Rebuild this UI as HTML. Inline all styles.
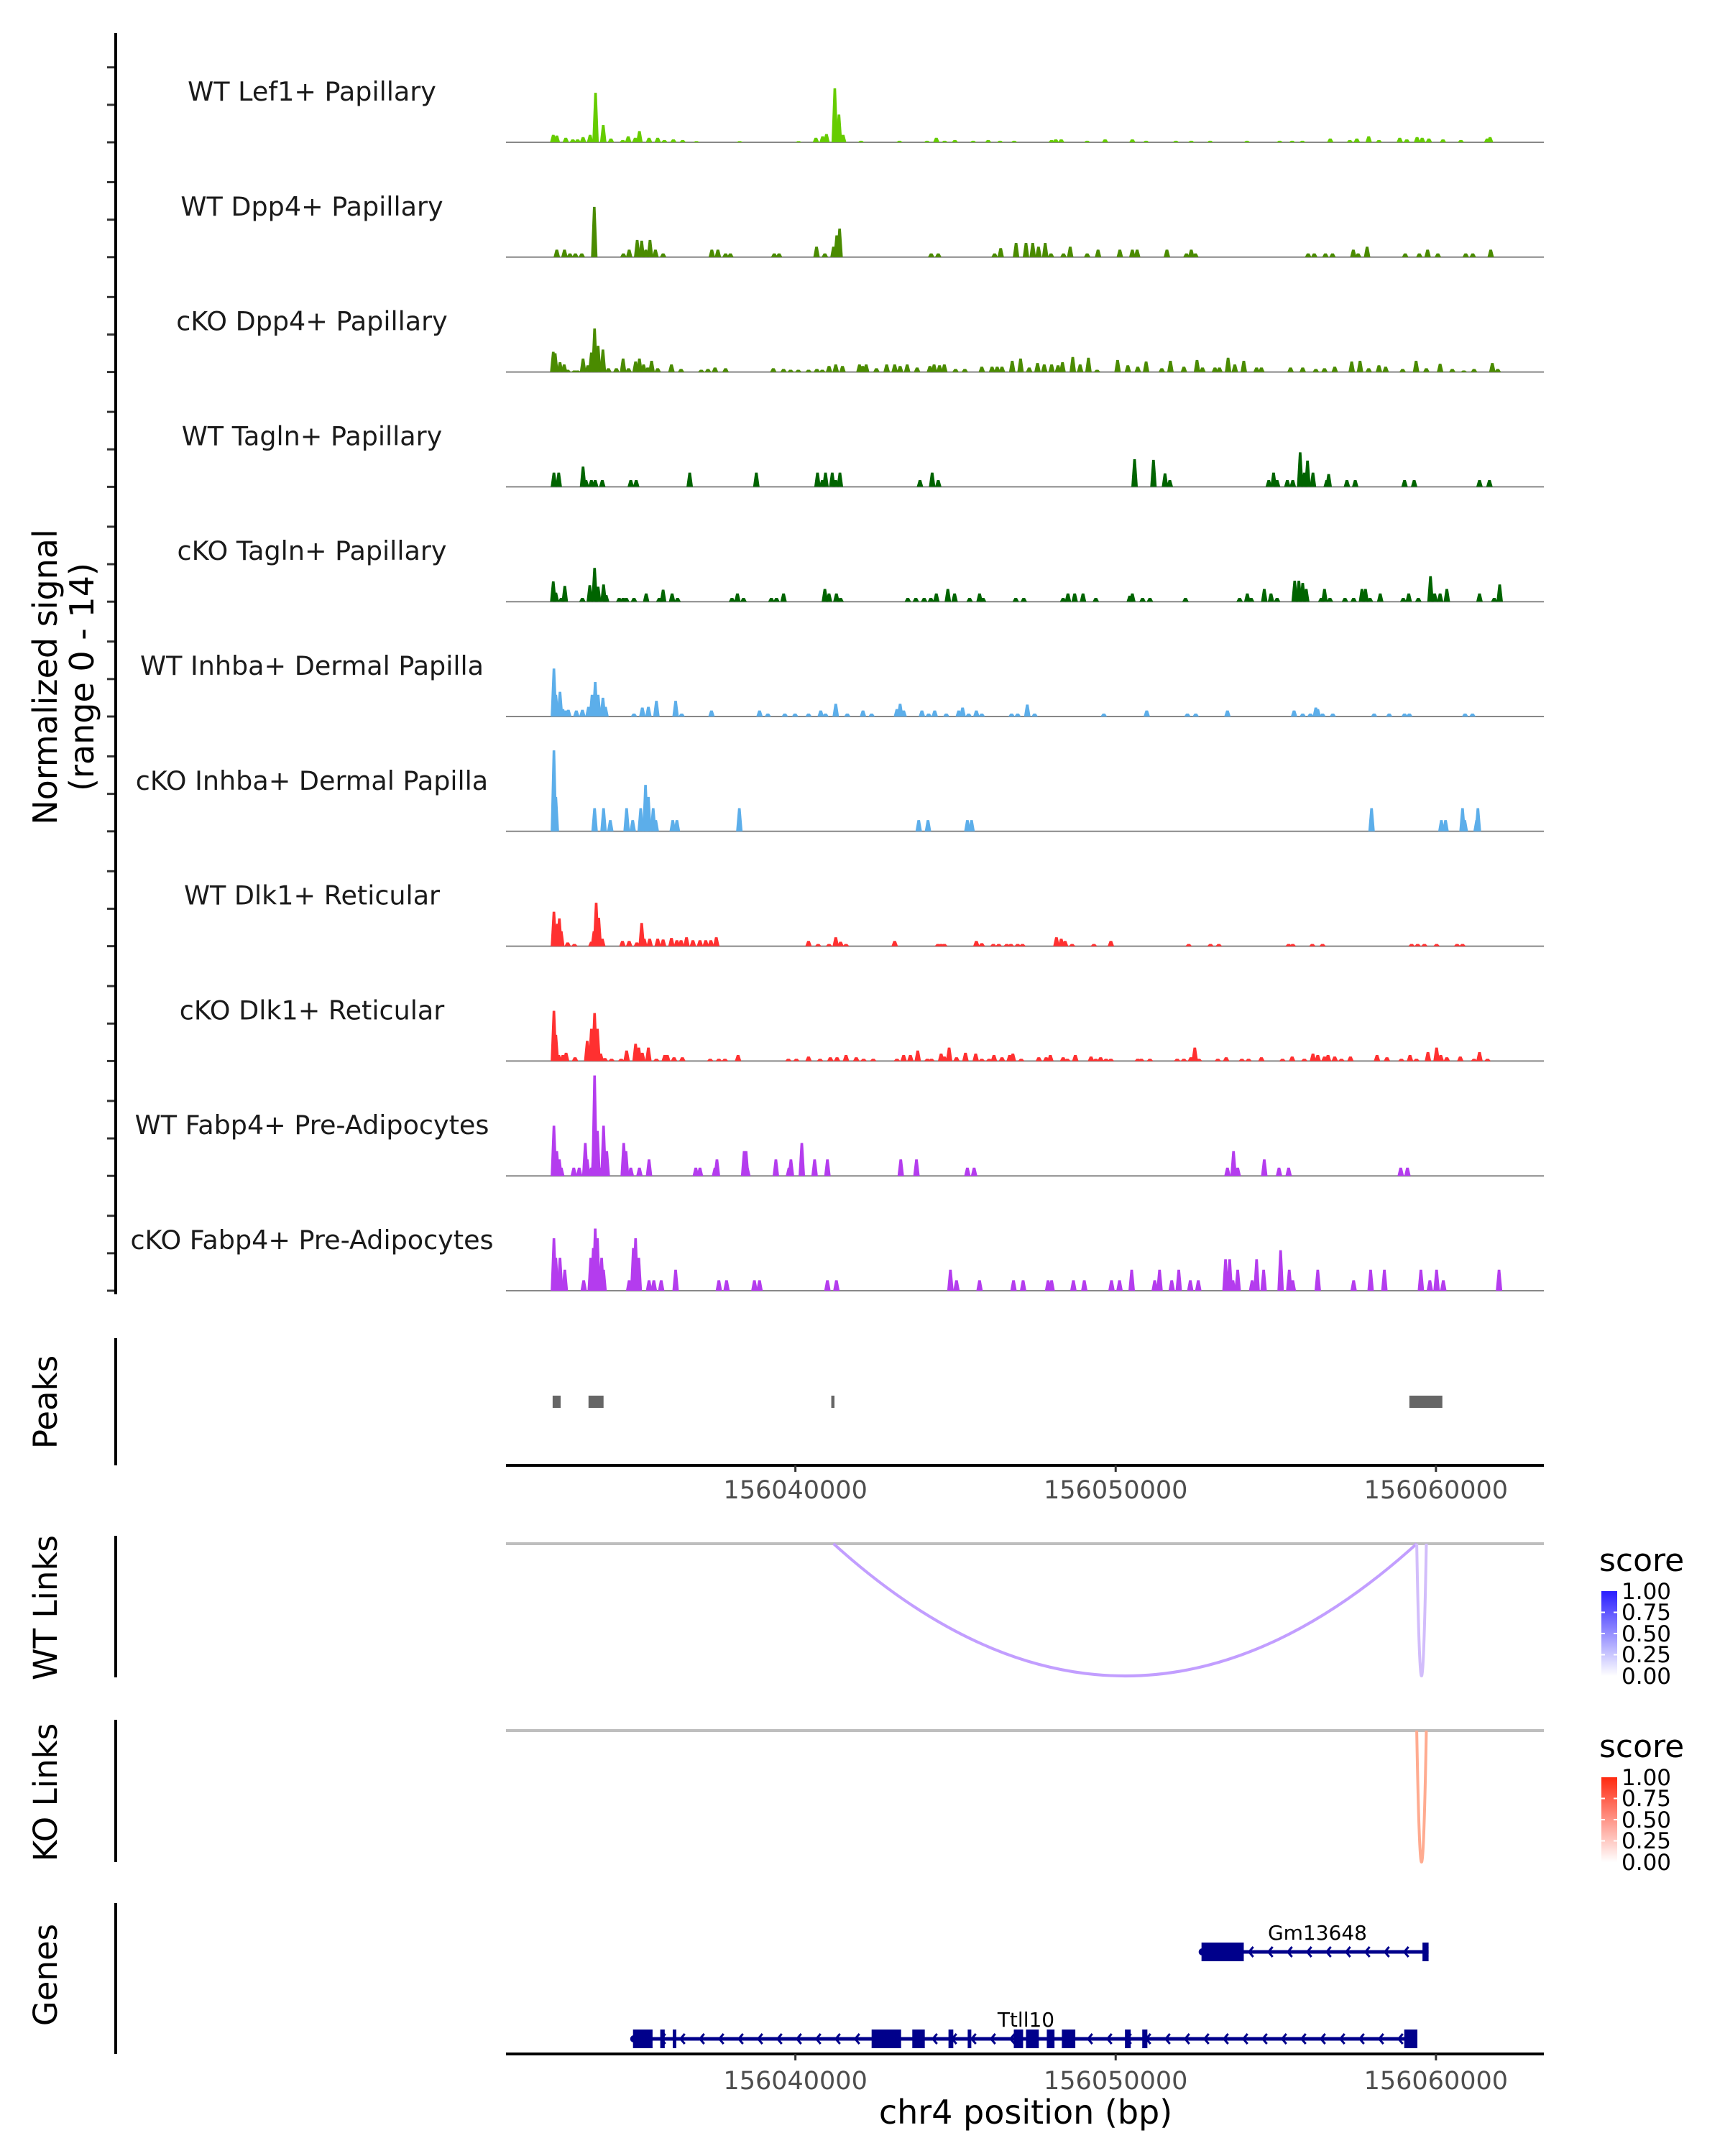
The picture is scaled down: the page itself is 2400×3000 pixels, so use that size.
<!DOCTYPE html>
<html><head><meta charset="utf-8"><style>
html,body{margin:0;padding:0;background:#fff}
svg{display:block;font-family:"DejaVu Sans","Liberation Sans",sans-serif}
</style></head><body>
<svg id="chart" width="2400" height="3000" viewBox="0 0 2400 3000" xmlns="http://www.w3.org/2000/svg">
<rect width="2400" height="3000" fill="#fff"/>
<g id="tracks"></g>
<g id="axes"></g>
<text transform="translate(79,942) rotate(-90)" text-anchor="middle" font-size="46" fill="#000">Normalized signal</text>
<text transform="translate(130,942) rotate(-90)" text-anchor="middle" font-size="46" fill="#000">(range 0 - 14)</text>
<text transform="translate(79,1951) rotate(-90)" text-anchor="middle" font-size="45">Peaks</text>
<text transform="translate(79,2237) rotate(-90)" text-anchor="middle" font-size="45">WT Links</text>
<text transform="translate(79,2494) rotate(-90)" text-anchor="middle" font-size="45">KO Links</text>
<text transform="translate(79,2748) rotate(-90)" text-anchor="middle" font-size="45">Genes</text>
<text x="1427" y="2955" text-anchor="middle" font-size="46">chr4 position (bp)</text>
<defs>
<linearGradient id="gBlue" x1="0" y1="1" x2="0" y2="0"><stop offset="0" stop-color="#ffffff"/><stop offset="1" stop-color="#2a1eff"/></linearGradient>
<linearGradient id="gRed" x1="0" y1="1" x2="0" y2="0"><stop offset="0" stop-color="#ffffff"/><stop offset="1" stop-color="#ff2a10"/></linearGradient>
</defs>
<g>
<text x="2225" y="2186" font-size="44">score</text>
<rect x="2228" y="2214" width="22" height="118" fill="url(#gBlue)"/>
<line x1="2228" x2="2233" y1="2243.5" y2="2243.5" stroke="#fff" stroke-width="2"/><line x1="2245" x2="2250" y1="2243.5" y2="2243.5" stroke="#fff" stroke-width="2"/>
<line x1="2228" x2="2233" y1="2273" y2="2273" stroke="#fff" stroke-width="2"/><line x1="2245" x2="2250" y1="2273" y2="2273" stroke="#fff" stroke-width="2"/>
<line x1="2228" x2="2233" y1="2302.5" y2="2302.5" stroke="#fff" stroke-width="2"/><line x1="2245" x2="2250" y1="2302.5" y2="2302.5" stroke="#fff" stroke-width="2"/>
<g font-size="31" fill="#000"><text x="2256" y="2225">1.00</text><text x="2256" y="2254">0.75</text><text x="2256" y="2284">0.50</text><text x="2256" y="2313">0.25</text><text x="2256" y="2343">0.00</text></g>
</g>
<g>
<text x="2225" y="2445" font-size="44">score</text>
<rect x="2228" y="2473" width="22" height="118" fill="url(#gRed)"/>
<line x1="2228" x2="2233" y1="2502.5" y2="2502.5" stroke="#fff" stroke-width="2"/><line x1="2245" x2="2250" y1="2502.5" y2="2502.5" stroke="#fff" stroke-width="2"/>
<line x1="2228" x2="2233" y1="2532" y2="2532" stroke="#fff" stroke-width="2"/><line x1="2245" x2="2250" y1="2532" y2="2532" stroke="#fff" stroke-width="2"/>
<line x1="2228" x2="2233" y1="2561.5" y2="2561.5" stroke="#fff" stroke-width="2"/><line x1="2245" x2="2250" y1="2561.5" y2="2561.5" stroke="#fff" stroke-width="2"/>
<g font-size="31" fill="#000"><text x="2256" y="2484">1.00</text><text x="2256" y="2513">0.75</text><text x="2256" y="2543">0.50</text><text x="2256" y="2572">0.25</text><text x="2256" y="2602">0.00</text></g>
</g>
<g id="links"></g>
<g id="genes"></g>
</svg>
<script>
// ---- data (positions in kb offset from 156,000,000 bp; values in normalized signal units) ----
const trackNames = ["WT Lef1+ Papillary","WT Dpp4+ Papillary","cKO Dpp4+ Papillary","WT Tagln+ Papillary","cKO Tagln+ Papillary","WT Inhba+ Dermal Papilla","cKO Inhba+ Dermal Papilla","WT Dlk1+ Reticular","cKO Dlk1+ Reticular","WT Fabp4+ Pre-Adipocytes","cKO Fabp4+ Pre-Adipocytes"];
const trackColors = ["#66cc00","#4a8b00","#4a8b00","#006400","#006400","#5caeea","#5caeea","#ff3030","#ff3030","#b43cee","#b43cee"];
const t1Pos=[32.44,32.55,32.83,33.05,33.2,33.37,33.59,33.76,34.0,34.24,34.61,34.78,35.0,35.13,35.43,35.7,35.91,36.19,36.48,36.91,38.26,40.1,40.64,40.85,40.97,41.23,41.36,41.49,42.05,43.25,44.11,44.4,44.66,44.98,45.55,46.02,46.39,46.83,48.0,48.13,48.3,49.11,49.67,50.52,50.95,51.88,52.36,52.95,54.1,55.12,55.51,55.83,56.7,57.31,57.53,57.9,58.22,58.87,59.09,59.41,59.57,59.78,60.22,60.78,61.6,61.69];
const t1Val=[1.0,0.9,0.6,0.4,0.4,0.7,1.0,6.6,2.3,0.5,0.3,0.8,0.6,1.5,0.6,0.6,0.3,0.4,0.3,0.15,0.15,0.15,0.6,0.8,1.1,7.2,3.7,1.0,0.2,0.2,0.2,0.6,0.2,0.3,0.2,0.3,0.2,0.2,0.3,0.4,0.4,0.2,0.4,0.4,0.2,0.2,0.2,0.2,0.2,0.2,0.2,0.2,0.5,0.3,0.5,0.8,0.3,0.6,0.4,0.7,0.6,0.5,0.4,0.3,0.5,0.7];
const t2Pos=[32.55,32.79,32.96,33.13,33.33,33.72,34.63,34.81,35.06,35.2,35.33,35.46,35.63,35.87,37.39,37.58,37.82,37.97,39.34,39.49,40.66,40.92,41.19,41.29,41.38,44.24,44.46,46.22,46.41,46.89,47.2,47.41,47.59,47.8,47.98,48.37,48.58,49.11,49.45,50.13,50.52,50.67,51.6,52.21,52.36,52.49,56.01,56.2,56.55,56.77,57.42,57.57,57.85,59.04,59.48,59.74,60.06,60.93,61.15,61.71];
const t2Val=[1.0,1.0,0.5,0.5,0.5,6.7,0.5,1.0,2.3,2.2,1.0,2.3,1.0,0.5,1.0,1.0,0.5,0.5,0.5,0.5,1.4,0.5,1.4,2.9,3.8,0.5,0.5,0.5,1.2,1.9,1.9,1.9,1.4,1.9,0.5,0.5,1.4,0.5,1.0,1.0,1.0,1.0,1.0,0.5,1.0,0.5,0.5,0.5,0.5,0.5,1.0,0.5,1.4,0.5,0.5,1.0,0.5,0.5,0.5,1.0];
const t3Pos=[32.44,32.5,32.65,32.78,32.89,33.1,33.2,33.37,33.52,33.63,33.73,33.84,33.99,34.16,34.41,34.62,34.79,35.01,35.13,35.26,35.39,35.51,35.7,36.13,36.43,37.06,37.27,37.49,37.82,39.31,39.63,39.85,40.09,40.41,40.67,40.84,41.05,41.26,41.47,42.0,42.1,42.21,42.53,42.85,43.1,43.27,43.49,43.8,44.2,44.33,44.5,44.65,45.0,45.29,45.82,46.14,46.3,46.45,46.77,47.03,47.3,47.56,47.77,48.0,48.2,48.34,48.66,48.89,49.15,49.42,50.06,50.38,50.69,50.95,51.44,51.71,52.13,52.54,52.71,53.1,53.24,53.51,53.72,54.0,54.4,54.55,55.46,55.84,56.25,56.52,56.84,57.37,57.63,57.9,58.22,58.43,58.96,59.38,59.7,60.13,60.51,60.87,61.19,61.76,61.93];
const t3Val=[2.7,2.5,1.3,1.0,0.3,0.2,0.2,1.8,0.9,2.6,5.8,3.5,3.0,0.5,0.5,1.8,0.5,1.4,1.8,1.0,0.6,1.5,0.5,1.0,0.4,0.3,0.4,0.6,0.5,0.5,0.4,0.3,0.3,0.3,0.4,0.3,0.8,1.0,0.8,1.0,0.8,1.0,0.5,1.0,1.0,0.8,1.0,0.6,0.8,1.0,0.9,1.0,0.4,0.4,0.7,0.7,0.7,0.7,1.5,1.8,0.6,1.2,1.0,1.0,0.9,1.3,2.0,1.0,1.9,0.3,1.6,0.9,0.7,1.4,0.5,1.5,0.7,1.6,0.6,0.6,0.6,1.9,1.0,1.5,0.6,0.6,0.6,0.6,0.4,0.5,0.7,1.4,1.5,0.5,0.9,0.7,0.4,1.5,0.5,1.1,0.4,0.2,0.4,1.2,0.4];
const t4Pos=[32.46,32.61,33.37,33.46,33.63,33.75,33.97,34.86,35.03,36.7,38.78,40.69,40.84,40.94,41.15,41.26,41.39,43.89,44.27,44.46,50.59,51.18,51.54,51.69,54.78,54.93,55.04,55.36,55.53,55.76,55.89,55.99,56.16,56.59,56.65,57.22,57.48,59.02,59.32,61.36,61.67];
const t4Val=[1.9,1.9,2.7,0.9,0.9,0.9,0.9,0.9,0.9,1.9,1.9,1.9,0.9,1.9,1.9,0.9,1.9,0.9,1.9,0.9,3.7,3.6,1.8,0.9,0.9,1.9,0.9,0.9,0.9,4.6,1.9,3.5,1.9,0.9,1.7,0.9,0.9,0.9,0.9,0.9,0.9];
const t5Pos=[32.44,32.52,32.69,32.8,33.35,33.58,33.73,33.84,34.01,34.09,34.5,34.62,34.72,34.96,35.34,35.75,35.87,36.15,36.32,38.02,38.19,38.38,39.25,39.41,39.63,40.92,41.05,41.28,41.41,43.51,43.76,44.02,44.23,44.4,44.76,44.97,45.44,45.75,45.86,46.88,47.13,48.36,48.51,48.72,48.98,49.38,50.44,50.52,50.84,51.07,52.18,53.87,54.11,54.23,54.64,54.85,55.04,55.59,55.72,55.84,55.95,56.42,56.52,56.69,57.16,57.43,57.69,57.8,57.94,58.26,58.98,59.15,59.45,59.83,59.96,60.13,60.34,61.36,61.82,61.99];
const t5Val=[2.7,1.2,0.5,2.1,0.5,2.2,4.5,2.0,2.3,0.9,0.5,0.5,0.5,0.5,1.1,0.5,1.6,1.1,0.5,0.5,1.1,0.5,0.5,0.5,1.1,1.7,1.1,1.1,0.5,0.5,0.5,0.5,0.5,1.1,1.7,1.1,0.5,1.1,0.5,0.5,0.5,0.5,1.1,1.1,1.1,0.5,0.8,1.1,0.5,0.5,0.5,0.5,1.1,0.5,1.7,1.1,0.5,2.8,2.8,2.5,1.7,0.5,1.7,0.5,0.5,0.5,1.7,1.7,0.5,1.1,0.5,1.1,0.5,3.4,1.1,1.1,1.7,1.1,0.5,2.3];
const t6Pos=[32.46,32.52,32.65,32.74,32.84,32.91,33.16,33.35,33.54,33.65,33.75,33.84,33.99,34.07,34.96,35.22,35.41,35.66,36.26,36.45,37.38,38.88,39.14,39.67,39.99,40.41,40.79,40.94,41.26,41.62,42.11,42.38,43.17,43.27,43.38,43.95,44.16,44.35,44.71,45.1,45.22,45.41,45.65,45.82,46.75,46.94,47.24,47.47,49.63,50.97,52.24,52.5,53.49,55.57,55.84,56.08,56.25,56.31,56.46,56.78,58.07,58.54,59.02,59.17,60.91,61.14];
const t6Val=[6.4,2.9,3.3,1.0,0.8,0.9,0.8,0.9,1.3,2.9,4.6,2.9,2.5,1.3,0.4,1.2,1.3,2.1,2.1,0.4,0.8,0.8,0.4,0.4,0.4,0.4,0.8,0.4,1.7,0.4,0.8,0.4,1.0,1.7,0.8,0.8,0.4,0.8,0.4,0.8,1.2,0.4,0.8,0.4,0.4,0.4,1.6,0.4,0.4,0.8,0.4,0.4,0.8,0.8,0.4,0.4,1.2,1.0,0.4,0.4,0.4,0.4,0.4,0.4,0.4,0.4];
const t7Pos=[32.46,32.52,33.73,34.01,34.22,34.73,34.92,35.17,35.32,35.41,35.56,35.64,36.17,36.3,38.25,43.85,44.14,45.37,45.5,57.99,60.17,60.3,60.83,60.9,61.27,61.31];
const t7Val=[10.8,4.6,3.1,3.1,1.5,3.1,1.5,3.1,6.2,4.6,3.1,1.5,1.5,1.5,3.1,1.5,1.5,1.5,1.5,3.1,1.5,1.5,3.1,1.5,1.5,3.1];
const t8Pos=[32.46,32.57,32.63,32.69,32.89,33.1,33.63,33.71,33.78,33.86,33.97,34.6,34.81,35.05,35.2,35.28,35.45,35.7,35.87,36.13,36.3,36.43,36.6,36.8,37.02,37.2,37.36,37.53,40.41,40.71,41.05,41.26,41.41,41.58,43.1,44.45,44.55,44.65,45.65,45.82,46.18,46.35,46.6,46.73,46.94,47.09,48.15,48.3,48.42,48.64,49.32,49.85,52.28,52.96,53.22,55.4,55.53,56.14,56.46,59.24,59.43,59.64,60.02,60.66,60.83];
const t8Val=[4.6,3.0,3.7,2.0,0.5,0.3,0.6,2.0,5.8,3.8,1.0,0.7,0.7,0.5,3.1,1.0,1.0,1.0,0.9,1.1,0.8,0.8,1.2,0.8,0.8,0.8,0.8,1.2,0.7,0.3,0.3,1.2,0.6,0.3,0.7,0.3,0.3,0.3,0.7,0.4,0.3,0.3,0.3,0.3,0.3,0.3,1.2,1.0,0.7,0.3,0.3,0.7,0.3,0.3,0.3,0.3,0.3,0.3,0.3,0.3,0.3,0.3,0.3,0.3,0.3];
const t9Pos=[32.46,32.52,32.61,32.74,32.84,33.12,33.5,33.63,33.73,33.82,33.92,34.05,34.26,34.56,34.73,35.01,35.11,35.22,35.41,35.66,35.92,36.0,36.21,36.47,37.34,37.61,37.8,38.21,39.78,40.03,40.41,40.77,41.09,41.3,41.58,41.9,42.13,42.43,43.17,43.38,43.59,43.82,44.12,44.25,44.55,44.65,44.8,45.03,45.31,45.63,45.82,46.05,46.2,46.45,46.69,46.79,47.05,47.6,47.83,47.96,48.36,48.49,48.74,49.23,49.38,49.53,49.7,49.85,50.69,50.8,51.07,51.92,52.13,52.35,52.47,52.6,53.19,53.45,53.94,54.15,54.55,55.21,55.51,55.89,56.16,56.31,56.52,56.63,56.84,57.05,57.33,58.16,58.47,58.92,59.19,59.39,59.75,60.02,60.15,60.34,60.76,61.19,61.36,61.61];
const t9Val=[6.7,3.5,0.8,0.8,1.1,0.5,2.7,4.3,6.4,4.3,1.0,0.4,0.3,0.3,1.4,2.3,1.8,1.1,1.8,0.3,0.8,0.8,0.5,0.5,0.3,0.3,0.3,0.8,0.3,0.3,0.6,0.3,0.5,0.5,0.8,0.5,0.3,0.3,0.3,0.8,0.8,1.4,0.3,0.3,1.0,0.6,1.8,0.5,1.1,1.0,0.3,0.3,0.8,0.5,0.8,1.0,0.3,0.5,0.5,0.8,0.5,0.3,0.8,0.6,0.3,0.5,0.3,0.3,0.3,0.3,0.3,0.3,0.3,0.5,1.8,0.3,0.3,0.5,0.3,0.3,0.5,0.3,0.6,0.3,1.0,0.8,0.6,0.8,0.6,0.3,0.6,0.8,0.5,0.3,0.8,0.3,1.2,1.8,0.8,0.5,0.6,0.3,1.2,0.3];
const t10Pos=[32.46,32.55,32.63,32.69,33.08,33.25,33.44,33.5,33.63,33.71,33.73,33.82,33.9,34.01,34.05,34.11,34.64,34.71,34.86,35.13,35.43,36.89,37.02,37.49,37.55,38.4,38.46,38.5,39.39,39.8,39.86,40.2,40.6,41.0,43.29,43.78,45.37,45.58,53.49,53.68,53.81,54.64,55.1,55.4,58.9,59.11];
const t10Val=[6.7,3.3,2.2,1.1,1.1,1.1,4.4,2.2,1.1,4.5,13.4,6.0,1.1,6.7,3.3,3.3,4.4,3.3,1.1,1.1,2.2,1.1,1.1,1.1,2.2,3.3,3.3,1.1,2.2,1.1,2.2,4.4,2.2,2.2,2.2,2.2,1.1,1.1,1.1,3.3,1.1,2.2,1.1,1.1,1.1,1.1];
const t11Pos=[32.46,32.52,32.65,32.8,33.39,33.61,33.69,33.75,33.82,33.95,34.01,34.81,34.94,35.01,35.11,35.43,35.58,35.81,36.26,37.61,37.85,38.72,38.88,41.0,41.28,44.84,45.03,45.75,46.81,47.11,47.89,48.0,48.68,49.02,49.87,50.12,50.5,51.22,51.37,51.75,51.97,52.33,52.58,53.43,53.56,53.66,53.81,54.26,54.4,54.62,55.15,55.42,55.53,56.31,57.43,57.96,58.39,59.53,59.81,60.02,60.23,61.97];
const t11Val=[7.0,4.4,4.4,2.8,1.4,4.4,5.7,8.3,7.0,4.4,2.8,1.4,5.7,7.0,4.4,1.4,1.4,1.4,2.8,1.4,1.4,1.4,1.4,1.4,1.4,2.8,1.4,1.4,1.4,1.4,1.4,1.4,1.4,1.4,1.4,1.4,2.8,1.4,2.8,1.4,2.8,1.4,1.4,4.2,4.2,1.4,2.8,1.4,4.2,2.8,5.4,2.8,1.4,2.8,1.4,2.8,2.8,2.8,1.4,2.8,1.4,2.8];
const trackPos=[t1Pos,t2Pos,t3Pos,t4Pos,t5Pos,t6Pos,t7Pos,t8Pos,t9Pos,t10Pos,t11Pos];
const trackVal=[t1Val,t2Val,t3Val,t4Val,t5Val,t6Val,t7Val,t8Val,t9Val,t10Val,t11Val];
const peakStart=[32.42,33.54,41.12,59.17];
const peakEnd=[32.67,34.01,41.22,60.20];
const xTicks=[40,50,60];
const xTickLabels=["156040000","156050000","156060000"];
const wtLinkStart=[41.19,59.40];
const wtLinkEnd=[59.40,59.70];
const wtLinkScore=[0.3,0.2];
const koLinkStart=[59.40];
const koLinkEnd=[59.70];
const koLinkScore=[0.3];
const geneNames=["Gm13648","Ttll10"];
const geneStart=[52.68,34.93];
const geneEnd=[59.77,59.42];
const geneLabelPos=[56.3,47.2];
const gmExonStart=[52.68,59.58];
const gmExonEnd=[54.00,59.77];
const ttExonStart=[34.93,35.78,36.17,42.38,43.65,44.78,45.38,46.82,47.20,47.85,48.32,50.29,50.83,59.01];
const ttExonEnd=[35.54,35.92,36.28,43.30,44.04,44.93,45.49,47.11,47.60,48.09,48.74,50.47,50.99,59.42];

// ---- scales ----
const NS="http://www.w3.org/2000/svg";
const X0=704, X1=2148, KB0=30.964, KB1=63.37;
const xs=kb=>X0+(kb-KB0)*(X1-X0)/(KB1-KB0);
const base0=198, spacing=159.8, unitPx=146/14;
const trackBase=i=>base0+i*spacing;
const ys=(i,v)=>trackBase(i)-v*unitPx;
function mk(tag,attrs,parent){const e=document.createElementNS(NS,tag);for(const k in attrs)e.setAttribute(k,attrs[k]);parent.appendChild(e);return e;}

const gT=document.getElementById('tracks');
const gA=document.getElementById('axes');
for(let i=0;i<trackNames.length;i++){
  const g=mk('g',{},gT);
  
  
  const lab=mk('text',{x:434,y:trackBase(i)-58,'text-anchor':'middle','font-size':36.5,fill:'#1a1a1a'},g);
  lab.textContent=trackNames[i];
  
  
  const bl=mk('line',{x1:X0,x2:X1,y1:trackBase(i),y2:trackBase(i),stroke:'#888','stroke-width':2},g);
  
  
  const P=trackPos[i],V=trackVal[i];
  for(let j=0;j<P.length;j++){
    const x=xs(P[j]),b=trackBase(i),t=ys(i,V[j]);
    const p=mk('polygon',{points:`${x-4.5},${b} ${x-1.8},${t} ${x+1.8},${t} ${x+4.5},${b}`,fill:trackColors[i]},g);
    
    
  }
  for(const v of [0,5,10]){
    const tk=mk('line',{x1:149,x2:161,y1:ys(i,v),y2:ys(i,v),stroke:'#333','stroke-width':3},gA);
    
    
  }
}
const yax=mk('line',{x1:161,x2:161,y1:46,y2:1801,stroke:'#000','stroke-width':4},gA);


[[1862,2039,'peaks-axis-line'],[2137,2334,'wt-links-axis-line'],[2393,2591,'ko-links-axis-line'],[2648,2858,'genes-axis-line']].forEach(a=>{
  const l=mk('line',{x1:161,x2:161,y1:a[0],y2:a[1],stroke:'#000','stroke-width':4},gA);
  
  
});
// peaks
for(let j=0;j<peakStart.length;j++){
  const r=mk('rect',{x:xs(peakStart[j]),y:1942,width:Math.max(4,xs(peakEnd[j])-xs(peakStart[j])),height:17,fill:'#666'},gA);
  
  
}
// x axes
[[2039,2085],[2858,2907]].forEach((a,k)=>{
  const l=mk('line',{x1:X0,x2:X1,y1:a[0],y2:a[0],stroke:'#000','stroke-width':4},gA);
  
  
  xTicks.forEach((t,j)=>{
    const tk=mk('line',{x1:xs(t),x2:xs(t),y1:a[0],y2:a[0]+9,stroke:'#333','stroke-width':3},gA);
    
    
    const tl=mk('text',{x:xs(t),y:a[1],'text-anchor':'middle','font-size':35,fill:'#4d4d4d'},gA);
    tl.textContent=xTickLabels[j];
    
    
  });
});
// links
const gL=document.getElementById('links');
const linkColors={wt:['#c29eff','#d2bdfb'],ko:['#ffab90','#ffab90']};
[[2148,2332,wtLinkStart,wtLinkEnd,wtLinkScore,'wt'],[2408,2591,koLinkStart,koLinkEnd,koLinkScore,'ko']].forEach(P=>{
  const [top,bot,S,E,SC,nm]=P;
  const bg=mk('line',{x1:X0,x2:X1,y1:top,y2:top,stroke:'#bebebe','stroke-width':4},gL);
  
  
  for(let j=0;j<S.length;j++){
    const a=xs(S[j]),b=xs(E[j]),cy=top+2*(bot-top);
    const col=SC[j]>=0.25?linkColors[nm][0]:linkColors[nm][1];
    const p=mk('path',{d:`M${a},${top} Q${(a+b)/2},${cy} ${b},${top}`,fill:'none',stroke:col,'stroke-width':4},gL);
    
    
  }
});
// genes
const gG=document.getElementById('genes');
const gy=[2716,2837];
const exS=[gmExonStart,ttExonStart],exE=[gmExonEnd,ttExonEnd];
for(let g=0;g<geneNames.length;g++){
  const grp=mk('g',{},gG);
  
  
  const y=gy[g],a=xs(geneStart[g]),b=xs(geneEnd[g]);
  mk('line',{x1:a,x2:b,y1:y,y2:y,stroke:'#00008b','stroke-width':5},grp);
  mk('circle',{cx:a+1,cy:y,r:5,fill:'#00008b'},grp);
  for(let x=a+12;x<b-6;x+=27){
    mk('path',{d:`M${x+6},${y-7} L${x},${y} L${x+6},${y+7}`,fill:'none',stroke:'#00008b','stroke-width':3},grp);
  }
  for(let j=0;j<exS[g].length;j++){
    const ex=mk('rect',{x:xs(exS[g][j]),y:y-13,width:Math.max(5,xs(exE[g][j])-xs(exS[g][j])),height:26,fill:'#00008b'},grp);
    
    
  }
  const t=mk('text',{x:xs(geneLabelPos[g]),y:y-17,'text-anchor':'middle','font-size':28,fill:'#000'},grp);
  t.textContent=geneNames[g];
  
  
}
</script>
</body></html>
